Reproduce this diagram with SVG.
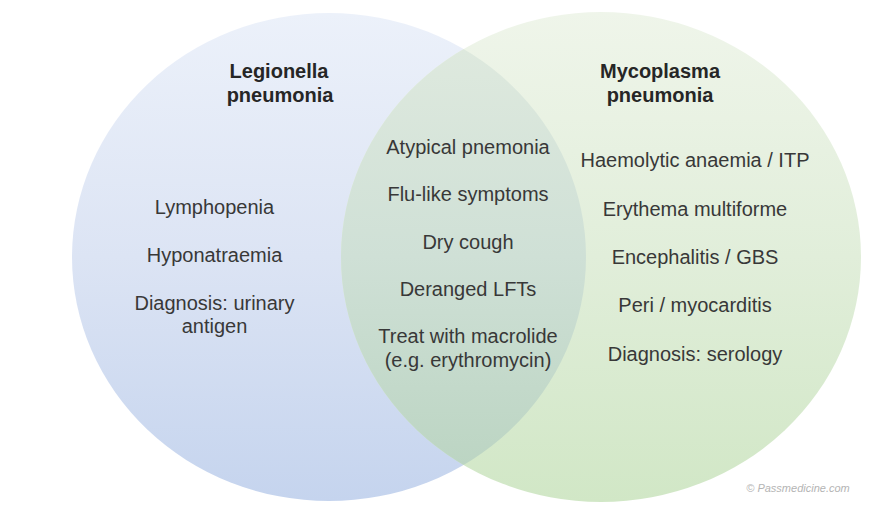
<svg xmlns="http://www.w3.org/2000/svg" width="896" height="512" viewBox="0 0 896 512">
  <style>
    .t { font-family: "Liberation Sans", Arial, sans-serif; font-size: 20px; fill: #383838; text-anchor: middle; }
    .h { font-family: "Liberation Sans", Arial, sans-serif; font-size: 20px; font-weight: bold; fill: #262626; text-anchor: middle; }
    .c { font-family: "Liberation Sans", Arial, sans-serif; font-size: 11px; font-style: italic; fill: #b4b4b4; text-anchor: middle; }
  </style>
  <defs>
    <linearGradient id="gBlue" gradientUnits="userSpaceOnUse" x1="0" y1="13" x2="0" y2="501">
      <stop offset="0" stop-color="#ecf1fa"/>
      <stop offset="0.5" stop-color="#dce4f4"/>
      <stop offset="1" stop-color="#c5d4ee"/>
    </linearGradient>
    <linearGradient id="gGreen" gradientUnits="userSpaceOnUse" x1="0" y1="12" x2="0" y2="502">
      <stop offset="0" stop-color="#eff5ea"/>
      <stop offset="0.5" stop-color="#e1eeda"/>
      <stop offset="1" stop-color="#d1e7c6"/>
    </linearGradient>
    <linearGradient id="gMix" gradientUnits="userSpaceOnUse" x1="0" y1="49" x2="0" y2="465">
      <stop offset="0" stop-color="#dee9de"/>
      <stop offset="0.5" stop-color="#cfe0d6"/>
      <stop offset="1" stop-color="#bcd5c3"/>
    </linearGradient>
    <clipPath id="clipLeft">
      <ellipse cx="329" cy="257" rx="257" ry="244"/>
    </clipPath>
  </defs>
  <rect x="0" y="0" width="896" height="512" fill="#ffffff"/>

  <g id="legionella">
    <ellipse cx="329" cy="257" rx="257" ry="244" fill="url(#gBlue)"/>
  </g>
  <g id="mycoplasma">
    <ellipse cx="601" cy="257" rx="260" ry="245" fill="url(#gGreen)"/>
  </g>
  <g id="overlap">
    <ellipse cx="601" cy="257" rx="260" ry="245" fill="url(#gMix)" clip-path="url(#clipLeft)"/>
  </g>

  <g id="legionella-labels">
    <text class="h" x="279" y="78">Legionella</text>
    <text class="h" x="280" y="102">pneumonia</text>
    <text class="t" x="214.5" y="214">Lymphopenia</text>
    <text class="t" x="214.5" y="262">Hyponatraemia</text>
    <text class="t" x="214.5" y="310">Diagnosis: urinary</text>
    <text class="t" x="214.5" y="333">antigen</text>
  </g>

  <g id="shared-labels">
    <text class="t" x="468" y="154">Atypical pnemonia</text>
    <text class="t" x="468" y="201">Flu-like symptoms</text>
    <text class="t" x="468" y="249">Dry cough</text>
    <text class="t" x="468" y="296">Deranged LFTs</text>
    <text class="t" x="468" y="343">Treat with macrolide</text>
    <text class="t" x="468" y="367">(e.g. erythromycin)</text>
  </g>

  <g id="mycoplasma-labels">
    <text class="h" x="660" y="78">Mycoplasma</text>
    <text class="h" x="660" y="102">pneumonia</text>
    <text class="t" x="695" y="167">Haemolytic anaemia / ITP</text>
    <text class="t" x="695" y="216">Erythema multiforme</text>
    <text class="t" x="695" y="264">Encephalitis / GBS</text>
    <text class="t" x="695" y="312">Peri / myocarditis</text>
    <text class="t" x="695" y="361">Diagnosis: serology</text>
  </g>

  <text class="c" x="798" y="492">© Passmedicine.com</text>
</svg>
